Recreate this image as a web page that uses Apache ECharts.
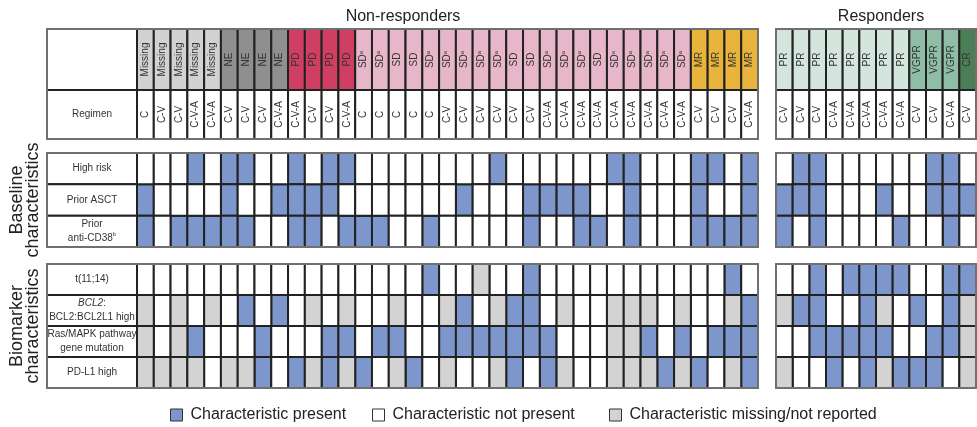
<!DOCTYPE html>
<html>
<head>
<meta charset="utf-8">
<script src="https://cdn.jsdelivr.net/npm/echarts@6/dist/echarts.min.js"></script>
<style>
  html, body { margin: 0; padding: 0; background: #fff; }
  #chart { width: 977px; height: 427px; }
</style>
</head>
<body>
<div id="chart"></div>
<script>
// Best overall response per patient ("a" marks a footnoted SD)
const responseNR = ['Missing','Missing','Missing','Missing','Missing','NE','NE','NE','NE','PD','PD','PD','PD',
  'SDa','SDa','SD','SD','SDa','SDa','SDa','SDa','SDa','SD','SD','SDa','SDa','SDa','SD','SDa','SDa','SDa','SDa','SDa',
  'MR','MR','MR','MR'];
const regimenNR = ['C','C-V','C-V','C-V-A','C-V-A','C-V','C-V','C-V','C-V-A','C-V-A','C-V','C-V','C-V-A',
  'C','C','C','C','C','C-V','C-V','C-V','C-V','C-V','C-V','C-V-A','C-V-A','C-V-A','C-V-A','C-V-A','C-V-A','C-V-A','C-V-A','C-V-A',
  'C-V','C-V','C-V','C-V-A'];
const responseR = ['PR','PR','PR','PR','PR','PR','PR','PR','VGPR','VGPR','VGPR','CR'];
const regimenR = ['C-V','C-V','C-V','C-V-A','C-V-A','C-V-A','C-V-A','C-V-A','C-V','C-V','C-V-A','C-V'];

// Row labels (rich-text markup for italics / superscripts)
const baselineLabels = ['High risk', 'Prior ASCT', 'Prior\nanti-CD38{sup|b}'];
const biomarkerLabels = ['t(11;14)', '{it|BCL2}:\nBCL2:BCL2L1 high', 'Ras/MAPK pathway\ngene mutation', 'PD-L1 high'];

// Status codes per patient: P = present, N = not present, M = missing/not reported
const highRiskNR   = 'NNNPNPPNNP' + 'NPPNNNNNNN' + 'NPNNNNNNPP' + 'NNNPPNP';
const priorAsctNR  = 'PNNNNPNNPP' + 'PPNNNNNNNP' + 'NNNPPPPNNP' + 'NNNPNNP';
const priorCd38NR  = 'PNPPPPPNNP' + 'PNPPPNNPNN' + 'NNNPNNPPNP' + 'NNNPPPP';
const highRiskR    = 'NPPNNNNNNPPN';
const priorAsctR   = 'PPPNNNPNNPPP';
const priorCd38R   = 'PNPNNNNPNNPN';

const t1114NR      = 'NNNNNNNNNN' + 'NNNNNNNPNN' + 'MNNPNNNNNN' + 'NNNNNPN';
const bcl2NR       = 'MNMNMNPNPN' + 'MNMNNMNNMP' + 'NMPPNMNNMM' + 'MNMNNMP';
const rasNR        = 'MNMPNNNPNN' + 'NPPNPPNNPP' + 'PPPPPNNNMM' + 'PNPNPPP';
const pdl1NR       = 'MMMMNMMPNP' + 'MPMPNMPNMN' + 'NMPNPMNNMM' + 'MPMPNMP';
const t1114R       = 'NNPNPPPPNNPP';
const bcl2R        = 'MPPNNPMNPNPM';
const rasR         = 'NNPPPPPNNPPM';
const pdl1R        = 'MNNPNPMPPPNM';

const statusNames = ['Characteristic present', 'Characteristic not present', 'Characteristic missing/not reported'];
const statusCodes = ['P', 'N', 'M'];
const statusColors = ['#7d97cd', '#ffffff', '#d3d3d3'];
const responseColors = {
  Missing: '#d2d2d2', NE: '#8f8f8f', PD: '#d03e64', SD: '#e8b6c9', MR: '#e8b43c',
  PR: '#d4e5de', VGPR: '#8fbea5', CR: '#4b7e56'
};

const FONT = '"Liberation Sans", Arial, Helvetica, sans-serif';
const LINE = '#222222';
const FRAME = '#707070';
const TEXT = '#333333';

const chart = echarts.init(document.getElementById('chart'), null, { renderer: 'canvas' });

// ---------- layout of the blocks ----------
const colX = { label: [47, 90], nr: [137, 621], r: [776, 200] };
const bandY = { header: [29, 61], regimen: [90, 49], baseline: [153, 94], biomarker: [264, 124] };

const grids = [], xAxes = [], yAxes = [], series = [];

function addGrid(col, band, nCols, rowNames) {
  const idx = grids.length;
  grids.push({ left: colX[col][0], width: colX[col][1], top: bandY[band][0], height: bandY[band][1], containLabel: false });
  xAxes.push({ type: 'category', gridIndex: idx, data: Array.from({ length: nCols }, (_, i) => String(i)), show: false });
  yAxes.push({ type: 'category', gridIndex: idx, data: rowNames, inverse: true, show: false });
  return idx;
}

function cellRect(api) {
  const p = api.coord([api.value(0), api.value(1)]);
  const s = api.size([1, 1]);
  return { x: p[0] - s[0] / 2, y: p[1] - s[1] / 2, width: s[0], height: s[1], cx: p[0], cy: p[1] };
}

// outline of a block: only the requested outer sides are drawn
function addFrame(g, sides) {
  series.push({
    type: 'custom', xAxisIndex: g, yAxisIndex: g, z: 6, silent: true,
    data: [[0, 0]],
    renderItem: function (params) {
      const c = params.coordSys;
      const seg = {
        top: [c.x, c.y, c.x + c.width, c.y],
        bottom: [c.x, c.y + c.height, c.x + c.width, c.y + c.height],
        left: [c.x, c.y, c.x, c.y + c.height],
        right: [c.x + c.width, c.y, c.x + c.width, c.y + c.height]
      };
      return {
        type: 'group',
        children: sides.map(sd => ({
          type: 'line',
          shape: { x1: seg[sd][0], y1: seg[sd][1], x2: seg[sd][2], y2: seg[sd][3] },
          style: { stroke: FRAME, lineWidth: 2, lineCap: 'square' }
        }))
      };
    }
  });
}

const richText = {
  sup: { fontSize: 6, fontFamily: FONT, fill: TEXT, verticalAlign: 'top', lineHeight: 9 },
  it: { fontSize: 10, fontFamily: FONT, fill: TEXT, fontStyle: 'italic' }
};

// label column cells
function addLabels(g, labels) {
  series.push({
    type: 'custom', xAxisIndex: g, yAxisIndex: g, z: 3, silent: true,
    data: labels.map((_, i) => [0, i]),
    renderItem: function (params, api) {
      const r = cellRect(api);
      const txt = labels[api.value(1)];
      return {
        type: 'group',
        children: [
          { type: 'rect', shape: { x: r.x, y: r.y, width: r.width, height: r.height },
            style: { fill: '#fff', stroke: LINE, lineWidth: 2 } },
          { type: 'text', x: r.cx, y: r.cy,
            style: { text: txt, fill: TEXT, fontSize: 10, fontFamily: FONT, lineHeight: 14,
                     align: 'center', verticalAlign: 'middle', rich: richText } }
        ]
      };
    }
  });
}

// rotated-text column headers (response / regimen)
function addHeader(g, texts, fillFor) {
  series.push({
    type: 'custom', xAxisIndex: g, yAxisIndex: g, z: 3, silent: true,
    data: texts.map((_, i) => [i, 0]),
    renderItem: function (params, api) {
      const r = cellRect(api);
      const raw = texts[api.value(0)];
      const f = fillFor(raw);
      const label = raw.replace(/^SDa$/, 'SD{sup|a}');
      return {
        type: 'group',
        children: [
          { type: 'rect', shape: { x: r.x, y: r.y, width: r.width, height: r.height },
            style: { fill: f.fill, stroke: LINE, lineWidth: 2 } },
          { type: 'text', x: r.cx, y: r.cy, rotation: Math.PI / 2,
            style: { text: label, fill: f.text, fontSize: 10, fontFamily: FONT,
                     align: 'center', verticalAlign: 'middle', rich: richText } }
        ]
      };
    }
  });
}

// status cells, one series per status so the legend can list them
function addStatus(g, rows) {
  statusCodes.forEach((code, s) => {
    const data = [];
    rows.forEach((row, ri) => {
      for (let c = 0; c < row.length; c++) if (row[c] === code) data.push([c, ri]);
    });
    series.push({
      type: 'custom', name: statusNames[s], xAxisIndex: g, yAxisIndex: g, z: 2, silent: true,
      itemStyle: { color: statusColors[s] },
      data: data,
      renderItem: function (params, api) {
        const r = cellRect(api);
        return { type: 'rect', shape: { x: r.x, y: r.y, width: r.width, height: r.height },
                 style: { fill: api.visual('color'), stroke: LINE, lineWidth: 2 } };
      }
    });
  });
}

const responseFill = raw => {
  const key = raw.replace(/a$/, '');
  return { fill: responseColors[key], text: TEXT };
};
const whiteFill = () => ({ fill: '#fff', text: TEXT });

// header band
const gLabH = addGrid('label', 'header', 1, ['']);
const gNrH = addGrid('nr', 'header', responseNR.length, ['Response']);
const gRH = addGrid('r', 'header', responseR.length, ['Response']);
addLabels(gLabH, ['']);
addHeader(gNrH, responseNR, responseFill);
addHeader(gRH, responseR, responseFill);
addFrame(gLabH, ['top', 'left']);
addFrame(gNrH, ['top', 'right']);
addFrame(gRH, ['top', 'left', 'right']);

// regimen band
const gLabRg = addGrid('label', 'regimen', 1, ['Regimen']);
const gNrRg = addGrid('nr', 'regimen', regimenNR.length, ['Regimen']);
const gRRg = addGrid('r', 'regimen', regimenR.length, ['Regimen']);
addLabels(gLabRg, ['Regimen']);
addHeader(gNrRg, regimenNR, whiteFill);
addHeader(gRRg, regimenR, whiteFill);
addFrame(gLabRg, ['bottom', 'left']);
addFrame(gNrRg, ['bottom', 'right']);
addFrame(gRRg, ['bottom', 'left', 'right']);

// baseline characteristics
const gLabB = addGrid('label', 'baseline', 1, baselineLabels);
const gNrB = addGrid('nr', 'baseline', responseNR.length, baselineLabels);
const gRB = addGrid('r', 'baseline', responseR.length, baselineLabels);
addLabels(gLabB, baselineLabels);
addStatus(gNrB, [highRiskNR, priorAsctNR, priorCd38NR]);
addStatus(gRB, [highRiskR, priorAsctR, priorCd38R]);
addFrame(gLabB, ['top', 'left', 'bottom']);
addFrame(gNrB, ['top', 'right', 'bottom']);
addFrame(gRB, ['top', 'left', 'right', 'bottom']);

// biomarker characteristics
const gLabM = addGrid('label', 'biomarker', 1, biomarkerLabels);
const gNrM = addGrid('nr', 'biomarker', responseNR.length, biomarkerLabels);
const gRM = addGrid('r', 'biomarker', responseR.length, biomarkerLabels);
addLabels(gLabM, biomarkerLabels);
addStatus(gNrM, [t1114NR, bcl2NR, rasNR, pdl1NR]);
addStatus(gRM, [t1114R, bcl2R, rasR, pdl1R]);
addFrame(gLabM, ['top', 'left', 'bottom']);
addFrame(gNrM, ['top', 'right', 'bottom']);
addFrame(gRM, ['top', 'left', 'right', 'bottom']);

const legendBase = {
  top: 407, padding: 0, icon: 'rect', itemWidth: 12, itemHeight: 12, selectedMode: false,
  textStyle: { fontSize: 16, color: '#222', fontFamily: FONT, padding: [0, 0, 0, 3] }
};
const legendLeft = [170, 372, 609];

const option = {
  animation: false,
  backgroundColor: '#fff',
  textStyle: { fontFamily: FONT },
  title: [
    { text: 'Non-responders', left: 398, top: 4, textAlign: 'center',
      textStyle: { fontSize: 16, fontWeight: 'normal', color: '#222', fontFamily: FONT } },
    { text: 'Responders', left: 876, top: 4, textAlign: 'center',
      textStyle: { fontSize: 16, fontWeight: 'normal', color: '#222', fontFamily: FONT } }
  ],
  legend: statusNames.map((n, s) => Object.assign({}, legendBase, {
    left: legendLeft[s],
    data: [{ name: n, itemStyle: { color: statusColors[s], borderColor: '#333', borderWidth: 1 } }]
  })),
  grid: grids,
  xAxis: xAxes,
  yAxis: yAxes,
  series: series,
  graphic: [
    { type: 'text', x: 25, y: 200, rotation: Math.PI / 2,
      style: { text: 'Baseline\ncharacteristics', fill: '#222', fontSize: 18, fontFamily: FONT,
               lineHeight: 16, align: 'center', verticalAlign: 'middle' } },
    { type: 'text', x: 25, y: 326, rotation: Math.PI / 2,
      style: { text: 'Biomarker\ncharacteristics', fill: '#222', fontSize: 18, fontFamily: FONT,
               lineHeight: 16, align: 'center', verticalAlign: 'middle' } }
  ]
};

chart.setOption(option);
</script>
</body>
</html>
